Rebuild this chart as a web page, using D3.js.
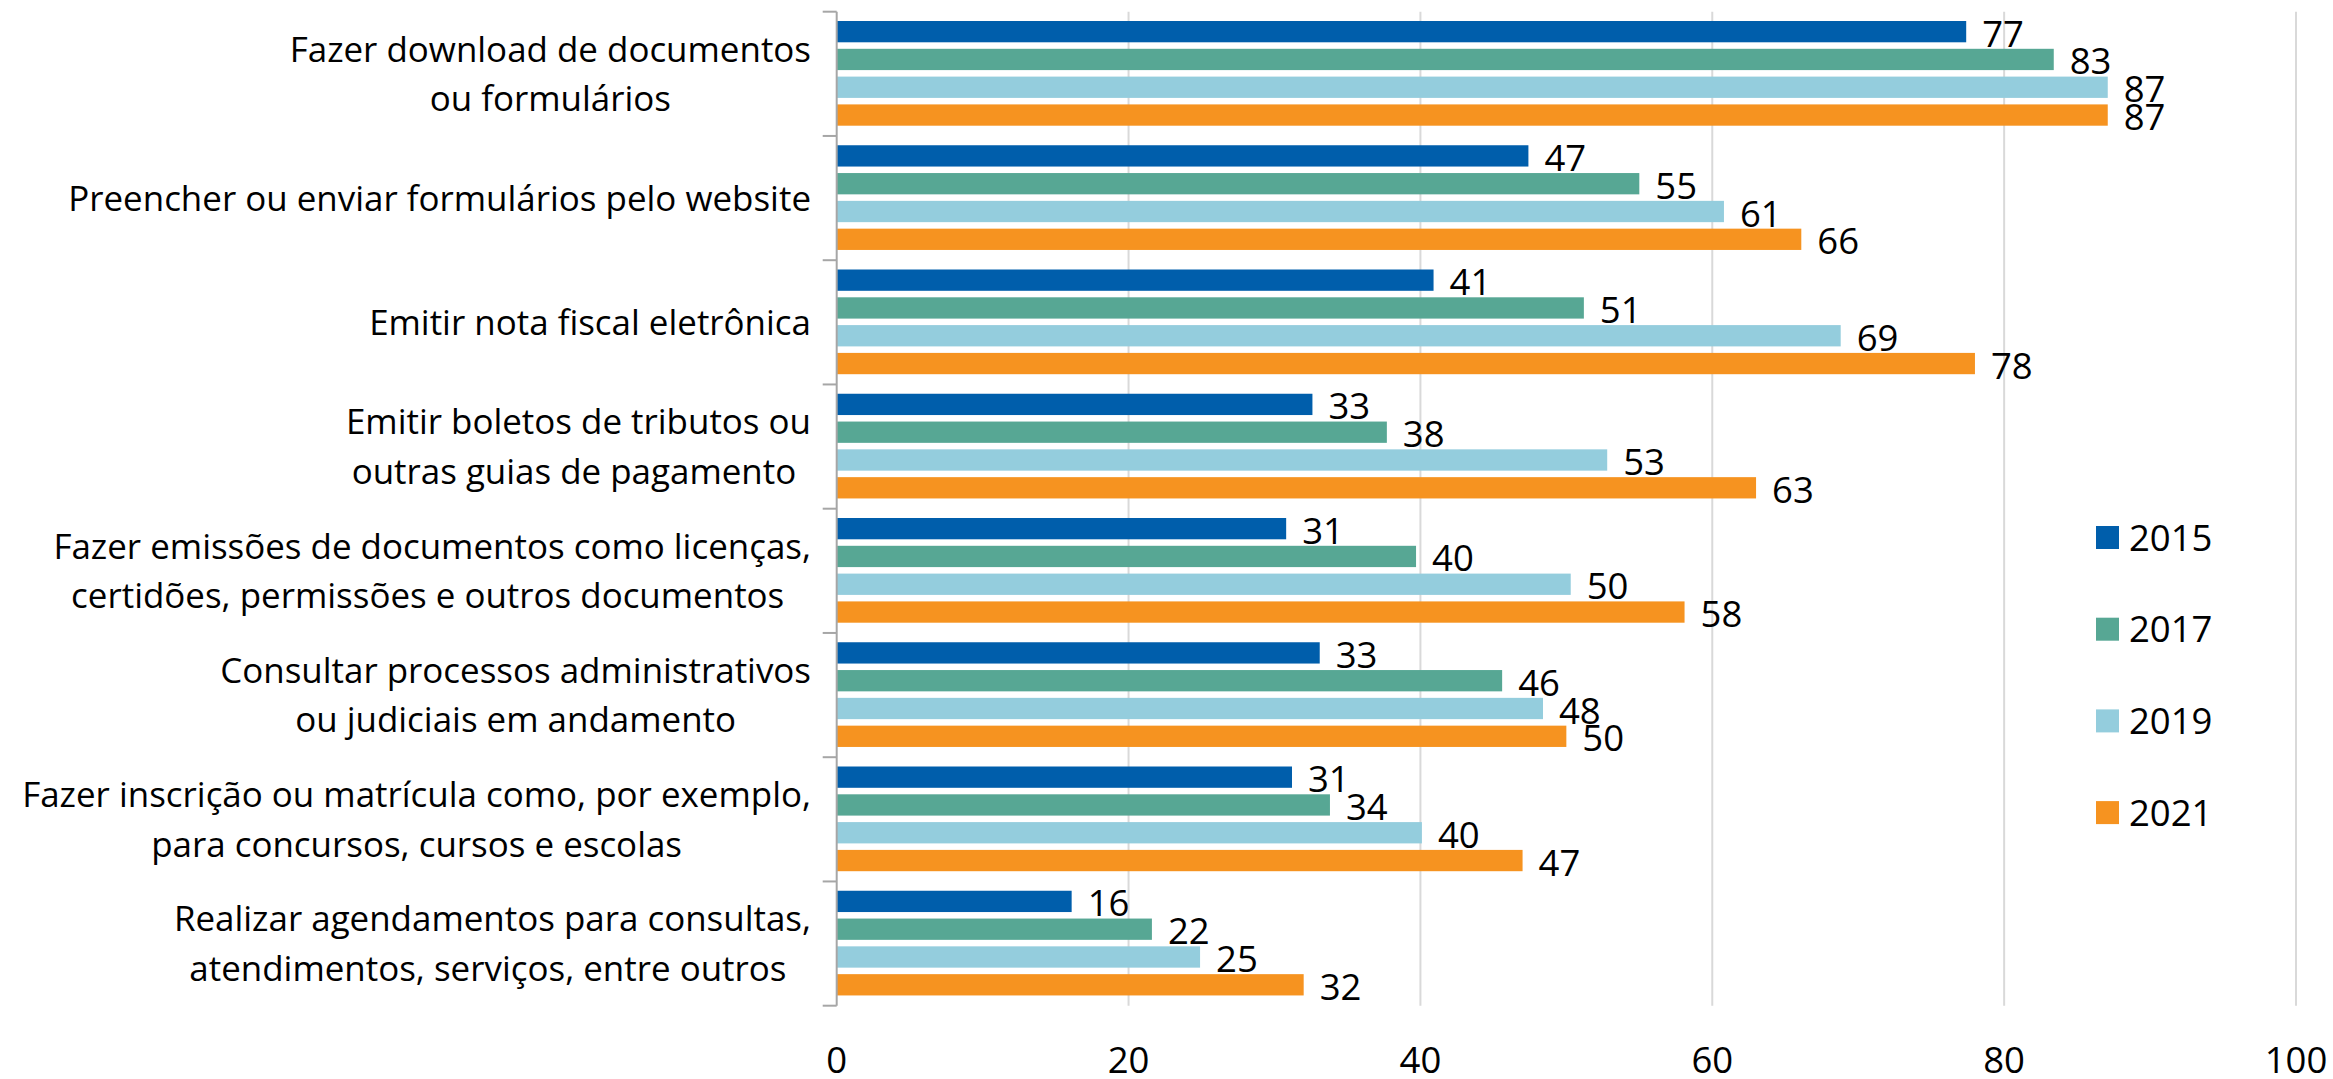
<!DOCTYPE html>
<html>
<head>
<meta charset="utf-8">
<script src="https://cdn.jsdelivr.net/npm/d3@7"></script>
<style>
  html, body { margin: 0; padding: 0; background: #fff; }
  svg { display: block; }
  text { font-family: "Open Sans", "Noto Sans", sans-serif; fill: #000; }
</style>
</head>
<body>
<svg id="chart" width="2333" height="1079"></svg>
<script>
// ---- data ----
const categories = [
  ["Fazer download de documentos", "ou formulários"],
  ["Preencher ou enviar formulários pelo website"],
  ["Emitir nota fiscal eletrônica"],
  ["Emitir boletos de tributos ou", "outras guias de pagamento "],
  ["Fazer emissões de documentos como licenças,", "certidões, permissões e outros documentos "],
  ["Consultar processos administrativos", "ou judiciais em andamento"],
  ["Fazer inscrição ou matrícula como, por exemplo,", "para concursos, cursos e escolas"],
  ["Realizar agendamentos para consultas,", "atendimentos, serviços, entre outros "]
];
const years = ["2015", "2017", "2019", "2021"];
const values2015 = [77.4, 47.4, 40.9, 32.6, 30.8, 33.1, 31.2, 16.1];
const values2017 = [83.4, 55.0, 51.2, 37.7, 39.7, 45.6, 33.8, 21.6];
const values2019 = [87.1, 60.8, 68.8, 52.8, 50.3, 48.4, 40.1, 24.9];
const values2021 = [87.1, 66.1, 78.0, 63.0, 58.1, 50.0, 47.0, 32.0];
const seriesValues = [values2015, values2017, values2019, values2021];
const colors = ["#005EAB", "#57A794", "#94CDDD", "#F69320"];
const xTicks = [0, 20, 40, 60, 80, 100];

// ---- layout ----
const svg = d3.select("#chart");
const x0 = 836.7, x1 = 2296, yTop = 11.7, yBot = 1005.7;
const labelRight = 811;

// category font size fitted so the long single-line label matches the reference width
const probe = svg.append("text").attr("font-size", 37).text(categories[1][0]);
const pw = probe.node().getComputedTextLength();
probe.remove();
const fs = Math.min(38, 37 * 743 / pw);
const nfs = 36.5; // numbers (values, ticks, legend)

const x = d3.scaleLinear().domain([0, 100]).range([x0, x1]);
const catIdx = d3.range(categories.length);
const y = d3.scaleBand().domain(catIdx).range([yTop, yBot]).padding(0);
const yInner = d3.scaleBand().domain(years).range([9.3, 114]).paddingInner(0.234).paddingOuter(0);

// gridlines
svg.append("g").selectAll("line")
  .data(xTicks.filter(d => d > 0))
  .join("line")
  .attr("x1", d => x(d)).attr("x2", d => x(d))
  .attr("y1", yTop).attr("y2", yBot)
  .attr("stroke", "#d9d9d9").attr("stroke-width", 2);

// bars
const rows = [];
catIdx.forEach(ci => years.forEach((yr, si) => rows.push({ci, si, yr, v: seriesValues[si][ci]})));

svg.append("g").selectAll("rect")
  .data(rows)
  .join("rect")
  .attr("x", x(0))
  .attr("y", d => y(d.ci) + yInner(d.yr))
  .attr("width", d => x(d.v) - x(0))
  .attr("height", yInner.bandwidth())
  .attr("fill", d => colors[d.si]);

// value labels
svg.append("g").selectAll("text")
  .data(rows)
  .join("text")
  .attr("x", d => x(d.v) + 16)
  .attr("y", d => y(d.ci) + yInner(d.yr) + yInner.bandwidth() / 2 + 15)
  .attr("font-size", nfs)
  .text(d => Math.round(d.v));

// category axis (left)
const axisG = svg.append("g");
axisG.append("line")
  .attr("x1", x0).attr("x2", x0).attr("y1", yTop).attr("y2", yBot)
  .attr("stroke", "#a6a6a6").attr("stroke-width", 2);
const boundaries = catIdx.map(i => y(i)).concat([yBot]);
axisG.selectAll("line.tick")
  .data(boundaries)
  .join("line").attr("class", "tick")
  .attr("x1", x0 - 14).attr("x2", x0).attr("y1", d => d).attr("y2", d => d)
  .attr("stroke", "#a6a6a6").attr("stroke-width", 2);

// category labels: lines centered within a right-aligned block
const lineH = 49.5;
const catG = svg.append("g");
categories.forEach((lines, i) => {
  const g = catG.append("g");
  const cy = y(i) + y.bandwidth() / 2;
  const texts = lines.map((ln, k) =>
    g.append("text")
      .attr("font-size", fs)
      .style("white-space", "pre")
      .attr("y", cy - (lines.length - 1) * lineH / 2 + k * lineH + 12.5)
      .text(ln));
  const widths = texts.map(t => t.node().getComputedTextLength());
  const maxW = d3.max(widths);
  const center = labelRight - maxW / 2;
  texts.forEach(t => t.attr("x", center).attr("text-anchor", "middle"));
});

// x tick labels
svg.append("g").selectAll("text")
  .data(xTicks)
  .join("text")
  .attr("x", d => x(d))
  .attr("y", 1073)
  .attr("text-anchor", "middle")
  .attr("font-size", nfs)
  .text(d => d);

// legend
const legG = svg.append("g");
years.forEach((yr, i) => {
  const top = 526 + i * 91.7;
  legG.append("rect").attr("x", 2096).attr("y", top).attr("width", 23).attr("height", 23).attr("fill", colors[i]);
  legG.append("text").attr("x", 2129).attr("y", top + 24.5).attr("font-size", nfs).text(yr);
});
</script>
</body>
</html>
